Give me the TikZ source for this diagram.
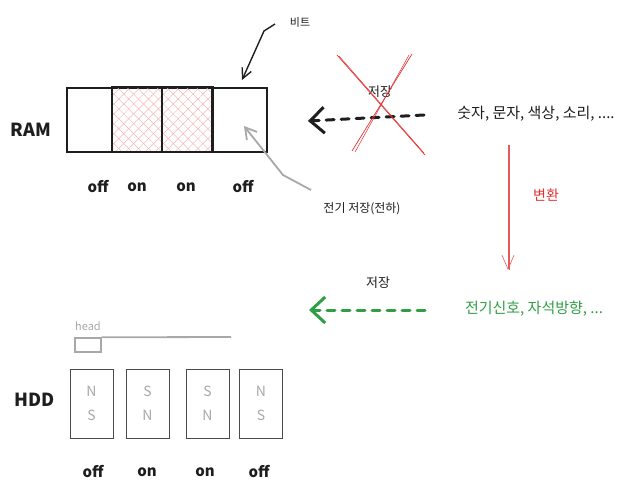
\documentclass[tikz,border=0pt]{standalone}
\usepackage{fontspec}
\setmainfont{Noto Sans CJK KR}
\usetikzlibrary{arrows.meta,patterns.meta,positioning}

\definecolor{inkblack}{HTML}{1E1E1E}
\definecolor{inkred}{HTML}{E03131}
\definecolor{inkgreen}{HTML}{2F9E44}
\definecolor{inkgrey}{HTML}{A8A8A8}

\tikzset{
  ramcell/.style={draw=inkblack, line width=1.6pt, minimum height=64pt, inner sep=0pt},
  hddcell/.style={draw=inkblack!80, line width=1pt, minimum width=43pt, minimum height=69pt,
    inner sep=0pt, align=center, text=inkgrey, font=\fontsize{14}{24}\selectfont},
  statelabel/.style={font=\fontsize{15}{16}\selectfont\bfseries, text=inkblack},
  devlabel/.style={font=\fontsize{18}{19}\selectfont\bfseries, text=inkblack},
  note/.style={font=\fontsize{12}{13}\selectfont, text=inkblack},
  saveflow/.style={line width=3pt, dash pattern=on 8pt off 7pt, line cap=round,
    -{Straight Barb[length=14pt,width=26pt,line width=3pt]}},
}

\begin{document}
\begin{tikzpicture}[x=1pt,y=-1pt]
    \useasboundingbox (0,0) rectangle (627,495);

    % RAM cells
    \node[ramcell, minimum width=45pt] (r1) at (89.5,120) {};
    \node[ramcell, minimum width=50pt, pattern={Lines[angle=45,distance=7pt,line width=0.5pt]}, pattern color=inkred!35] (r2) at (137,120) {};
    \node[ramcell, minimum width=50pt, pattern={Lines[angle=45,distance=7pt,line width=0.5pt]}, pattern color=inkred!35] (r3) at (187,120) {};
    \fill[pattern={Lines[angle=-45,distance=7pt,line width=0.5pt]}, pattern color=inkred!35] (r2.south west) rectangle (r3.north east);
    \draw[line width=1.6pt, inkblack] (r2.south west) rectangle (r3.north east);
    \draw[line width=1.6pt, inkblack] (r2.north east) -- (r2.south east);
    \node[ramcell, minimum width=55pt] (r4) at (239.5,120) {};
    \node[devlabel] (ram) at (31,130) {RAM};

    % RAM states
    \node[statelabel] (rs1) at (98,187) {off};
    \node[statelabel] (rs2) at (137,187) {on};
    \node[statelabel] (rs3) at (186,187) {on};
    \node[statelabel] (rs4) at (243,187) {off};

    % bit pointer
    \node[note, font=\fontsize{11}{12}\selectfont] (bit) at (300,22) {비트};
    \coordinate (bitstart) at (275,24);
    \coordinate (bitend) at (242,80);
    \draw[inkblack, line width=1.4pt, -{Straight Barb[length=10pt,width=10pt]}]
        (bitstart) -- (264,31) -- (bitend);

    % charge pointer
    \node[note] (charge) at (362,209) {전기 저장(전하)};
    \coordinate (chargestart) at (311,190);
    \coordinate (chargeend) at (244,126);
    \draw[inkgrey, line width=1.8pt, -{Straight Barb[length=11pt,width=13pt]}]
        (chargestart) -- (283,175) -- (chargeend);

    % data kinds and storing to RAM
    \node[font=\fontsize{15}{16}\selectfont, text=inkblack] (data) at (536,114) {숫자, 문자, 색상, 소리, ....};
    \node[font=\fontsize{13}{14}\selectfont, text=inkblack] (save1) at (380,92) {저장};
    \draw[saveflow, inkblack] (424,115) -- (308,121);

    % crossed out
    \draw[inkred, line width=0.7pt] (337,55) -- (425,155);
    \draw[inkred, line width=0.5pt] (339,56) -- (424,153);
    \draw[inkred, line width=0.7pt] (412,54) -- (352,151);
    \draw[inkred, line width=0.5pt] (409,55) -- (355,152);

    % conversion
    \node[font=\fontsize{14}{15}\selectfont, text=inkred] (conv) at (546,195) {변환};
    \coordinate (convstart) at (508,145);
    \coordinate (convend) at (508,270);
    \draw[inkred!80, line width=0.6pt, -{Straight Barb[length=14pt,width=12pt]}] (convstart) -- (convend);
    \draw[inkred!80, line width=0.6pt] ([xshift=1.6pt]convstart) -- ([xshift=1.6pt]convend);

    % signals and storing to HDD
    \node[font=\fontsize{15}{16}\selectfont, text=inkgreen] (signal) at (534,309) {전기신호, 자석방향, ...};
    \node[font=\fontsize{13}{14}\selectfont, text=inkblack] (save2) at (378,283) {저장};
    \draw[saveflow, inkgreen] (425,310) -- (309,310);

    % head
    \node[font=\fontsize{11}{12}\selectfont, text=inkgrey] (headlabel) at (88,326) {head};
    \node[draw=inkgrey, line width=1.4pt, minimum width=26pt, minimum height=14pt, inner sep=0pt] (head) at (88,345) {};
    \coordinate (armend) at (231,337);
    \draw[inkgrey, line width=1.8pt] (head.north east) -- (armend);

    % HDD cells
    \node[hddcell] (h1) at (91.5,403.5) {N\\S};
    \node[hddcell] (h2) at (147.5,403.5) {S\\N};
    \node[hddcell] (h3) at (207.5,403.5) {S\\N};
    \node[hddcell] (h4) at (261,403.5) {N\\S};
    \node[devlabel] (hdd) at (35,400) {HDD};

    % HDD states
    \node[statelabel] (hs1) at (93,472) {off};
    \node[statelabel] (hs2) at (147,472) {on};
    \node[statelabel] (hs3) at (205,472) {on};
    \node[statelabel] (hs4) at (259,472) {off};
\end{tikzpicture}
\end{document}
